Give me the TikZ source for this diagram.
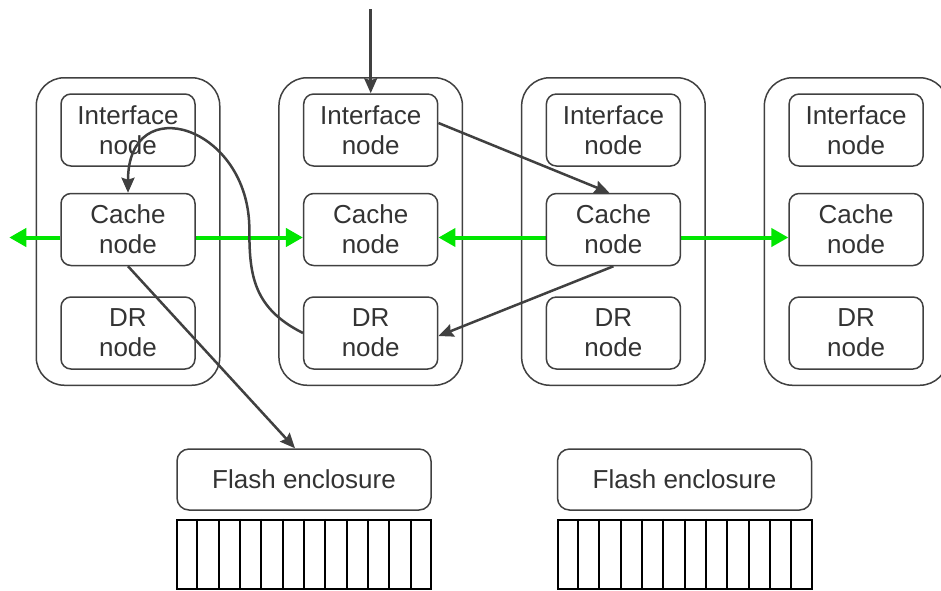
\documentclass[tikz,border=0pt]{standalone}
\usepackage{fontspec}
\setmainfont{Liberation Sans}
\usetikzlibrary{arrows.meta,fit,calc}
\usetikzlibrary{positioning,backgrounds}
\pgfdeclarelayer{background}
\pgfdeclarelayer{foreground}
\pgfsetlayers{background,main,foreground}
\definecolor{linecol}{HTML}{404040}
\definecolor{textcol}{HTML}{333333}
\definecolor{linkcol}{HTML}{00E600}
\definecolor{gridcol}{HTML}{000000}
\tikzstyle{flow} = [-{Stealth[length=15pt,width=13pt,inset=2pt]},linecol,line width=2.5pt]
\tikzstyle{link} = [-{Triangle[length=17pt,width=18pt]},linkcol,line width=4pt]
\tikzset{
  basic box/.style = {
    shape = rectangle,
    draw = linecol,
    line width = 1.5pt,
    text = textcol,
    align = center,
    inner sep = 0pt,
    font = \fontsize{26}{30}\selectfont,
    },
  unit box/.style = {
    basic box,
    rounded corners = 10pt,
    minimum width = 134pt,
    minimum height = 72pt,
  },
  server box/.style = {
    draw = linecol,
    line width = 1.5pt,
    rounded corners = 28pt,
    inner xsep = 24pt,
    inner ysep = 15.5pt,
  },
  flash box/.style = {
    basic box,
    rounded corners = 12pt,
    minimum width = 254pt,
    minimum height = 61pt,
  },
  disk box/.style = {
    draw = gridcol,
    line width = 2pt,
    inner sep = 0pt,
    minimum width = 254pt,
    minimum height = 69pt,
  },
}

\begin{document}
\begin{tikzpicture}[node distance = 242.7pt]
    \useasboundingbox (0,0) rectangle (941pt,-590pt);

    %servers
    \node [unit box] (if1) at (128pt,-130pt) {Interface\\node};
    \node [unit box, below=26pt of if1] (cache1) {Cache\\node};
    \node [unit box, below=30pt of cache1] (dr1) {DR\\node};

    \node [unit box, right of=if1] (if2) {Interface\\node};
    \node [unit box, right of=cache1] (cache2) {Cache\\node};
    \node [unit box, right of=dr1] (dr2) {DR\\node};

    \node [unit box, right of=if2] (if3) {Interface\\node};
    \node [unit box, right of=cache2] (cache3) {Cache\\node};
    \node [unit box, right of=dr2] (dr3) {DR\\node};

    \node [unit box, right of=if3] (if4) {Interface\\node};
    \node [unit box, right of=cache3] (cache4) {Cache\\node};
    \node [unit box, right of=dr3] (dr4) {DR\\node};

    \begin{pgfonlayer}{background}
        \node [server box, fit=(if1) (dr1)] (srv1) {};
        \node [server box, fit=(if2) (dr2)] (srv2) {};
        \node [server box, fit=(if3) (dr3)] (srv3) {};
        \node [server box, fit=(if4) (dr4)] (srv4) {};
    \end{pgfonlayer}

    % flash
    \node [flash box] (flash1) at (304pt,-479.5pt) {Flash enclosure};
    \node [flash box, right=125pt of flash1] (flash2) {Flash enclosure};

    \node [disk box, below=8pt of flash1] (disks1) {};
    \node [disk box, below=8pt of flash2] (disks2) {};
    \foreach \i in {1,...,11} {
        \draw [gridcol, line width=2pt] ($(disks1.north west)!\i/12!(disks1.north east)$)
            -- ($(disks1.south west)!\i/12!(disks1.south east)$);
        \draw [gridcol, line width=2pt] ($(disks2.north west)!\i/12!(disks2.north east)$)
            -- ($(disks2.south west)!\i/12!(disks2.south east)$);
    }

    % Paths
    \coordinate [above=84pt of if2.north] (entry);
    \coordinate [left=51pt of cache1.west, yshift=-8pt] (west end);
    \coordinate (bend) at ($(cache1.east)!.5!(cache2.west)$);

    \begin{pgfonlayer}{background}
        \draw[link] ([yshift=-8pt]cache1.west) -- (west end);
        \draw[link] ([yshift=-8pt]cache1.east) -- ([yshift=-8pt]cache2.west);
        \draw[link] ([yshift=-8pt]cache3.west) -- ([yshift=-8pt]cache2.east);
        \draw[link] ([yshift=-8pt]cache3.east) -- ([yshift=-8pt]cache4.west);
    \end{pgfonlayer}

    \draw[flow] (entry) -- (if2.north);
    \draw[flow] ([yshift=7pt]if2.east) -- ([xshift=-4pt]cache3.north);
    \draw[flow] (cache3.south) -- ([yshift=-3pt]dr2.east);
    \draw[flow] (cache1.south) -- ([xshift=-9pt]flash1.north);
    \draw[flow] (dr2.west) .. controls +(-50pt,25pt) and +(0,-45pt) .. (bend)
        .. controls +(0,104pt) and +(0,104pt) .. (cache1.north);
\end{tikzpicture}
\end{document}
